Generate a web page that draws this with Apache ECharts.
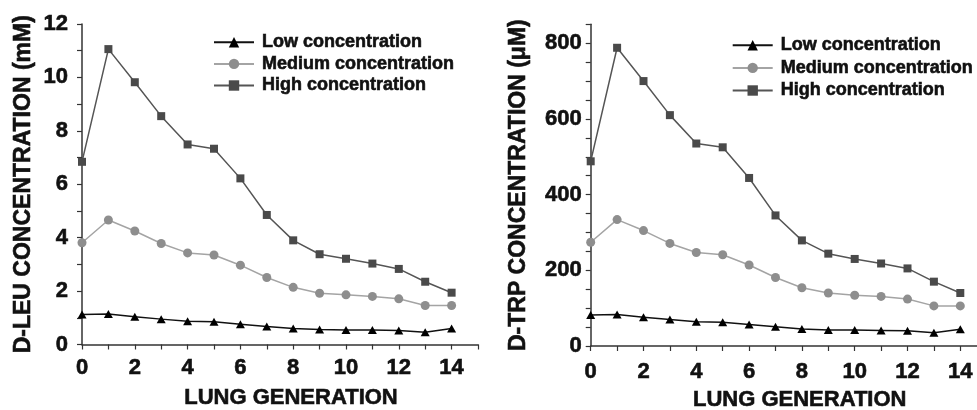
<!DOCTYPE html>
<html>
<head>
    <meta charset="utf-8">
    <title>Lung generation concentrations</title>
    <script src="https://cdn.jsdelivr.net/npm/echarts@6/dist/echarts.min.js"></script>
    <style>
        html, body { margin: 0; padding: 0; background: #fff; }
    </style>
</head>
<body>
<div id="chart" style="width: 977px;height:410px;"></div>
<script type="text/javascript">
    // lung generation 0..14
    var gens = [0, 1, 2, 3, 4, 5, 6, 7, 8, 9, 10, 11, 12, 13, 14];
    var seriesNames = ['Low concentration', 'Medium concentration', 'High concentration'];

    // D-LEU (mM)
    var leuLow  = [1.12, 1.14, 1.04, 0.95, 0.87, 0.85, 0.76, 0.67, 0.60, 0.56, 0.54, 0.54, 0.52, 0.46, 0.60];
    var leuMed  = [3.81, 4.66, 4.25, 3.78, 3.43, 3.35, 2.97, 2.51, 2.14, 1.92, 1.86, 1.80, 1.71, 1.46, 1.46];
    var leuHigh = [6.84, 11.06, 9.82, 8.55, 7.49, 7.33, 6.22, 4.85, 3.90, 3.38, 3.21, 3.03, 2.83, 2.35, 1.94];

    // D-TRP (uM)
    var trpLow  = [82, 83, 76, 70, 64, 63, 57, 51, 45, 42, 42, 41, 40, 35, 44];
    var trpMed  = [274, 334, 305, 271, 247, 241, 214, 181, 154, 140, 134, 131, 124, 106, 106];
    var trpHigh = [488, 788, 700, 610, 535, 525, 444, 345, 279, 244, 230, 218, 205, 170, 140];

    function pairs(vals) {
        return gens.map(function (g, i) { return [g, vals[i]]; });
    }

    var font = 'Liberation Sans, Arial, Helvetica, sans-serif';
    var axisColor = '#333';
    var ink = '#111';

    // bold text, thickened a little with a stroke so it looks like the heavy print face
    function heavy(size) {
        return { fontFamily: font, fontWeight: 'bold', fontSize: size, color: ink,
                 textBorderColor: ink, textBorderWidth: 0.6 };
    }

    function xAxisCfg(grid, labelMargin) {
        var nameStyle = heavy(22);
        nameStyle.padding = [0, 0, 0, 22];
        var lab = heavy(22);
        lab.margin = labelMargin;
        lab.formatter = function (v) { return (v % 2 === 0 && v <= 14) ? String(v) : ''; };
        return {
            gridIndex: grid,
            type: 'value',
            min: 0, max: 15, interval: 1,
            name: 'LUNG GENERATION',
            nameLocation: 'middle',
            nameGap: 42,
            nameTextStyle: nameStyle,
            axisLine: { show: true, lineStyle: { color: axisColor, width: 1.5 } },
            axisTick: { show: true, inside: false, length: 5, lineStyle: { color: axisColor, width: 1.2 } },
            axisLabel: lab,
            splitLine: { show: false }
        };
    }

    function yAxisCfg(grid, max, step, every, title, gap, labelMargin) {
        var lab = heavy(22);
        lab.margin = labelMargin;
        lab.formatter = function (v) { return v % every === 0 ? String(v) : ''; };
        return {
            gridIndex: grid, type: 'value', min: 0, max: max, interval: step,
            name: title,
            nameLocation: 'middle', nameGap: gap,
            nameTextStyle: heavy(23),
            axisLine: { show: true, lineStyle: { color: axisColor, width: 1.5 } },
            axisTick: { show: true, inside: false, length: 5, lineStyle: { color: axisColor, width: 1.2 } },
            axisLabel: lab,
            splitLine: { show: false }
        };
    }

    var symbolStyles = [
        { symbol: 'triangle', size: [9, 8], color: '#000', line: '#111' },
        { symbol: 'circle', size: 9, color: '#8e8e8e', line: '#a4a4a4' },
        { symbol: 'rect', size: 8, color: '#4a4a4a', line: '#555' }
    ];

    function makeSeries(xi, data, k) {
        var s = symbolStyles[k];
        return {
            name: seriesNames[k],
            type: 'line',
            xAxisIndex: xi, yAxisIndex: xi,
            data: pairs(data),
            symbol: s.symbol,
            symbolSize: s.size,
            showAllSymbol: true,
            itemStyle: { color: s.color },
            lineStyle: { color: s.line, width: 1.5 },
            z: 2 + k
        };
    }

    function legendCfg(left, top, gap) {
        var ts = heavy(18);
        ts.padding = [0, 0, 0, 3];
        return {
            orient: 'vertical',
            left: left, top: top,
            padding: 0,
            itemWidth: 40, itemHeight: 13, itemGap: gap,
            data: seriesNames,
            selectedMode: false,
            textStyle: ts
        };
    }

    var chart = echarts.init(document.getElementById('chart'));
    chart.setOption({
        animation: false,
        backgroundColor: '#fff',
        // fixed plot boxes: the right panel runs past the canvas edge on purpose
        grid: [
            { left: 82, top: 24, width: 396, height: 320.5, outerBoundsMode: 'none', containLabel: false },
            { left: 590.7, top: 24.3, width: 396, height: 321.7, outerBoundsMode: 'none', containLabel: false }
        ],
        legend: [legendCfg(213, 33, 3), legendCfg(731.7, 36, 4)],
        xAxis: [xAxisCfg(0, 12), xAxisCfg(1, 15)],
        yAxis: [
            yAxisCfg(0, 12, 1, 2, 'D-LEU CONCENTRATION (mM)', 47, 14),
            yAxisCfg(1, 850, 50, 200, 'D-TRP CONCENTRATION (\u03bcM)', 61, 9)
        ],
        series: [
            makeSeries(0, leuLow, 0),
            makeSeries(0, leuMed, 1),
            makeSeries(0, leuHigh, 2),
            makeSeries(1, trpLow, 0),
            makeSeries(1, trpMed, 1),
            makeSeries(1, trpHigh, 2)
        ]
    });
</script>
</body>
</html>
